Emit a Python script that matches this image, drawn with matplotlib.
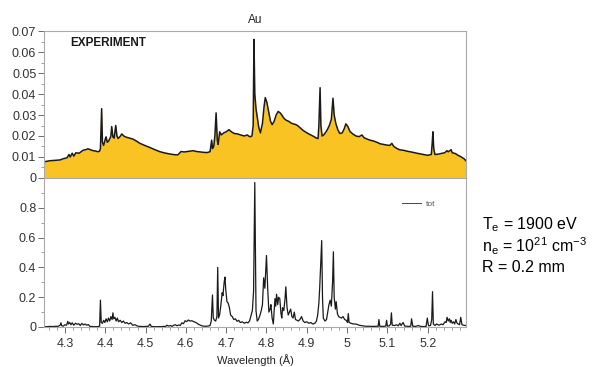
import numpy as np
import matplotlib
matplotlib.use("Agg")
import matplotlib.pyplot as plt
from matplotlib.ticker import MultipleLocator

plt.rcParams['font.family'] = ['Liberation Sans', 'DejaVu Sans']

# experiment spectrum (top panel)
top_wl = [4.248, 4.262, 4.276, 4.288, 4.296, 4.305, 4.310, 4.313, 4.318, 4.322,
          4.327, 4.335, 4.345, 4.352, 4.357, 4.364, 4.370, 4.377, 4.382, 4.386,
          4.388, 4.391, 4.393, 4.396, 4.400, 4.402, 4.405, 4.408, 4.412, 4.414,
          4.416, 4.419, 4.422, 4.426, 4.429, 4.432, 4.437, 4.441, 4.446, 4.451,
          4.460, 4.469, 4.478, 4.486, 4.498, 4.511, 4.523, 4.536, 4.548, 4.561,
          4.572, 4.580, 4.585, 4.588, 4.596, 4.604, 4.611, 4.618, 4.627, 4.635,
          4.645, 4.652, 4.660, 4.664, 4.666, 4.669, 4.672, 4.675, 4.678, 4.680,
          4.684, 4.688, 4.694, 4.700, 4.707, 4.713, 4.720, 4.728, 4.736, 4.745,
          4.752, 4.759, 4.764, 4.767, 4.769, 4.771, 4.774, 4.777, 4.781, 4.785,
          4.790, 4.794, 4.797, 4.801, 4.805, 4.810, 4.814, 4.819, 4.824, 4.829,
          4.834, 4.838, 4.843, 4.849, 4.855, 4.860, 4.866, 4.872, 4.877, 4.884,
          4.890, 4.896, 4.903, 4.910, 4.917, 4.924, 4.928, 4.930, 4.933, 4.935,
          4.938, 4.942, 4.946, 4.951, 4.956, 4.961, 4.965, 4.968, 4.972, 4.977,
          4.982, 4.988, 4.993, 4.997, 5.002, 5.007, 5.014, 5.022, 5.030, 5.037,
          5.042, 5.050, 5.057, 5.066, 5.074, 5.082, 5.090, 5.098, 5.106, 5.111,
          5.116, 5.124, 5.131, 5.140, 5.148, 5.156, 5.164, 5.173, 5.181, 5.188,
          5.193, 5.200, 5.205, 5.209, 5.211, 5.213, 5.215, 5.218, 5.224, 5.230,
          5.236, 5.242, 5.248, 5.251, 5.255, 5.258, 5.261, 5.266, 5.270, 5.275,
          5.280, 5.285, 5.290, 5.295]
top_val = [0.0077, 0.0082, 0.0084, 0.0086, 0.0092, 0.0096, 0.0112, 0.0100, 0.0118, 0.0104,
           0.0120, 0.0118, 0.0132, 0.0135, 0.0139, 0.0134, 0.0130, 0.0128, 0.0125, 0.0128,
           0.0140, 0.0330, 0.0170, 0.0155, 0.0185, 0.0196, 0.0170, 0.0175, 0.0190, 0.0200,
           0.0245, 0.0195, 0.0190, 0.0250, 0.0200, 0.0188, 0.0198, 0.0210, 0.0200, 0.0195,
           0.0190, 0.0185, 0.0175, 0.0165, 0.0155, 0.0145, 0.0135, 0.0125, 0.0119, 0.0114,
           0.0111, 0.0110, 0.0120, 0.0126, 0.0124, 0.0126, 0.0128, 0.0130, 0.0126, 0.0124,
           0.0122, 0.0121, 0.0125, 0.0180, 0.0140, 0.0150, 0.0200, 0.0310, 0.0180, 0.0160,
           0.0220, 0.0205, 0.0215, 0.0220, 0.0230, 0.0220, 0.0212, 0.0210, 0.0205, 0.0200,
           0.0205, 0.0196, 0.0200, 0.0250, 0.0660, 0.0400, 0.0330, 0.0290, 0.0240, 0.0215,
           0.0260, 0.0340, 0.0383, 0.0360, 0.0320, 0.0270, 0.0254, 0.0270, 0.0300, 0.0317,
           0.0310, 0.0300, 0.0285, 0.0275, 0.0270, 0.0263, 0.0258, 0.0255, 0.0250, 0.0238,
           0.0228, 0.0220, 0.0212, 0.0205, 0.0198, 0.0190, 0.0188, 0.0250, 0.0430, 0.0250,
           0.0200, 0.0205, 0.0215, 0.0230, 0.0250, 0.0280, 0.0380, 0.0300, 0.0260, 0.0230,
           0.0212, 0.0215, 0.0235, 0.0258, 0.0245, 0.0222, 0.0210, 0.0200, 0.0197, 0.0205,
           0.0192, 0.0185, 0.0180, 0.0176, 0.0170, 0.0163, 0.0160, 0.0157, 0.0155, 0.0165,
           0.0150, 0.0140, 0.0134, 0.0132, 0.0128, 0.0125, 0.0122, 0.0118, 0.0115, 0.0112,
           0.0110, 0.0108, 0.0110, 0.0112, 0.0160, 0.0220, 0.0140, 0.0112, 0.0113, 0.0115,
           0.0118, 0.0120, 0.0130, 0.0125, 0.0130, 0.0135, 0.0120, 0.0118, 0.0115, 0.0108,
           0.0104, 0.0098, 0.0092, 0.0082]

# calculated spectrum "tot" (bottom panel)
bot_wl = [4.248, 4.255, 4.262, 4.270, 4.277, 4.283, 4.288, 4.290, 4.292, 4.296,
          4.300, 4.304, 4.307, 4.309, 4.312, 4.315, 4.318, 4.322, 4.326, 4.330,
          4.334, 4.338, 4.342, 4.346, 4.350, 4.354, 4.358, 4.362, 4.368, 4.375,
          4.382, 4.386, 4.388, 4.390, 4.393, 4.396, 4.399, 4.402, 4.405, 4.408,
          4.411, 4.414, 4.417, 4.419, 4.421, 4.424, 4.427, 4.430, 4.433, 4.437,
          4.441, 4.445, 4.449, 4.453, 4.458, 4.463, 4.468, 4.474, 4.480, 4.486,
          4.495, 4.503, 4.507, 4.511, 4.514, 4.522, 4.530, 4.540, 4.550, 4.553,
          4.557, 4.562, 4.566, 4.570, 4.574, 4.578, 4.582, 4.586, 4.590, 4.594,
          4.598, 4.602, 4.606, 4.610, 4.615, 4.620, 4.625, 4.630, 4.636, 4.642,
          4.648, 4.655, 4.660, 4.663, 4.666, 4.668, 4.671, 4.674, 4.677, 4.679,
          4.681, 4.684, 4.687, 4.690, 4.692, 4.695, 4.697, 4.699, 4.702, 4.705,
          4.708, 4.711, 4.715, 4.719, 4.723, 4.727, 4.731, 4.735, 4.740, 4.745,
          4.750, 4.754, 4.758, 4.762, 4.765, 4.768, 4.771, 4.774, 4.777, 4.780,
          4.784, 4.787, 4.790, 4.793, 4.796, 4.800, 4.803, 4.806, 4.809, 4.811,
          4.814, 4.817, 4.819, 4.821, 4.823, 4.825, 4.828, 4.830, 4.833, 4.836,
          4.838, 4.840, 4.843, 4.846, 4.848, 4.851, 4.854, 4.857, 4.860, 4.863,
          4.866, 4.869, 4.872, 4.876, 4.879, 4.883, 4.887, 4.891, 4.895, 4.900,
          4.905, 4.910, 4.915, 4.920, 4.924, 4.927, 4.930, 4.932, 4.935, 4.937,
          4.939, 4.941, 4.945, 4.949, 4.952, 4.955, 4.958, 4.961, 4.964, 4.966,
          4.968, 4.971, 4.973, 4.976, 4.979, 4.982, 4.986, 4.990, 4.994, 4.998,
          5.001, 5.003, 5.005, 5.010, 5.016, 5.022, 5.030, 5.038, 5.046, 5.055,
          5.065, 5.074, 5.077, 5.079, 5.081, 5.090, 5.096, 5.098, 5.100, 5.105,
          5.108, 5.110, 5.112, 5.118, 5.123, 5.127, 5.131, 5.134, 5.139, 5.143,
          5.148, 5.155, 5.158, 5.160, 5.163, 5.170, 5.177, 5.182, 5.190, 5.196,
          5.199, 5.202, 5.207, 5.210, 5.212, 5.214, 5.218, 5.222, 5.228, 5.234,
          5.238, 5.243, 5.246, 5.248, 5.251, 5.254, 5.256, 5.258, 5.261, 5.264,
          5.267, 5.270, 5.273, 5.276, 5.279, 5.282, 5.285, 5.289, 5.294]
bot_val = [0.003, 0.002, 0.004, 0.003, 0.005, 0.004, 0.012, 0.028, 0.008, 0.006,
           0.015, 0.012, 0.038, 0.020, 0.030, 0.015, 0.028, 0.012, 0.025, 0.018,
           0.022, 0.010, 0.024, 0.014, 0.020, 0.012, 0.016, 0.004, 0.003, 0.002,
           0.003, 0.006, 0.180, 0.030, 0.025, 0.045, 0.030, 0.055, 0.035, 0.060,
           0.040, 0.070, 0.050, 0.095, 0.055, 0.065, 0.040, 0.060, 0.035, 0.045,
           0.030, 0.040, 0.025, 0.030, 0.020, 0.028, 0.012, 0.015, 0.006, 0.004,
           0.003, 0.004, 0.005, 0.020, 0.004, 0.002, 0.002, 0.003, 0.004, 0.012,
           0.006, 0.010, 0.004, 0.012, 0.015, 0.008, 0.014, 0.010, 0.028, 0.022,
           0.042, 0.036, 0.047, 0.040, 0.042, 0.035, 0.030, 0.020, 0.012, 0.006,
           0.005, 0.006, 0.010, 0.040, 0.215, 0.060, 0.045, 0.040, 0.070, 0.400,
           0.060, 0.085, 0.150, 0.230, 0.210, 0.300, 0.335, 0.250, 0.170, 0.160,
           0.130, 0.080, 0.070, 0.050, 0.055, 0.038, 0.045, 0.030, 0.035, 0.025,
           0.032, 0.028, 0.040, 0.080, 0.110, 0.240, 0.970, 0.110, 0.040, 0.050,
           0.080, 0.110, 0.150, 0.330, 0.260, 0.480, 0.260, 0.100, 0.120, 0.150,
           0.060, 0.020, 0.100, 0.190, 0.140, 0.220, 0.150, 0.200, 0.190, 0.090,
           0.060, 0.130, 0.110, 0.190, 0.270, 0.130, 0.080, 0.100, 0.120, 0.070,
           0.060, 0.100, 0.050, 0.045, 0.040, 0.050, 0.070, 0.040, 0.030, 0.035,
           0.025, 0.030, 0.020, 0.025, 0.040, 0.080, 0.160, 0.260, 0.450, 0.580,
           0.200, 0.060, 0.040, 0.050, 0.100, 0.150, 0.180, 0.140, 0.300, 0.505,
           0.200, 0.120, 0.170, 0.090, 0.070, 0.065, 0.060, 0.070, 0.050, 0.045,
           0.030, 0.090, 0.030, 0.025, 0.020, 0.020, 0.012, 0.008, 0.005, 0.005,
           0.004, 0.005, 0.004, 0.050, 0.005, 0.004, 0.006, 0.045, 0.006, 0.008,
           0.020, 0.095, 0.012, 0.010, 0.015, 0.008, 0.025, 0.010, 0.030, 0.006,
           0.005, 0.004, 0.006, 0.055, 0.005, 0.004, 0.010, 0.004, 0.003, 0.004,
           0.060, 0.008, 0.010, 0.050, 0.237, 0.020, 0.010, 0.020, 0.012, 0.020,
           0.015, 0.035, 0.030, 0.065, 0.040, 0.055, 0.030, 0.045, 0.025, 0.035,
           0.020, 0.050, 0.025, 0.020, 0.015, 0.065, 0.015, 0.012, 0.010]

xticks = [4.3, 4.4, 4.5, 4.6, 4.7, 4.8, 4.9, 5.0, 5.1, 5.2]
xtick_labels = ['4.3', '4.4', '4.5', '4.6', '4.7', '4.8', '4.9', '5', '5.1', '5.2']

fig = plt.figure(figsize=(6.12, 3.67), dpi=100)
ax1 = fig.add_axes([0.0719, 0.515, 0.6895, 0.4005])
ax2 = fig.add_axes([0.0719, 0.109, 0.6895, 0.406])

ax1.fill_between(top_wl, top_val, 0, color='#F9C423', lw=0)
ax1.plot(top_wl, top_val, color='#1a1a1a', lw=1.1)
ax1.set_ylim(0, 0.07)
ax1.set_yticks([0, 0.01, 0.02, 0.03, 0.04, 0.05, 0.06, 0.07])
ax1.set_yticklabels(['0', '0.01', '0.02', '0.03', '0.04', '0.05', '0.06', '0.07'])
ax1.yaxis.set_minor_locator(MultipleLocator(0.005))
ax1.set_title('Au', fontsize=8.5, pad=6, color='#222222')
ax1.text(0.062, 0.918, 'EXPERIMENT', transform=ax1.transAxes, fontsize=8.5,
         fontweight='bold', va='center', color='#1a1a1a')

ax2.plot(bot_wl, bot_val, color='#1a1a1a', lw=0.9, label='tot')
ax2.set_ylim(0, 1.0)
ax2.set_yticks([0, 0.2, 0.4, 0.6, 0.8])
ax2.set_yticklabels(['0', '0.2', '0.4', '0.6', '0.8'])
ax2.yaxis.set_minor_locator(MultipleLocator(0.1))
ax2.set_xlabel('Wavelength (Å)', fontsize=8, labelpad=3, color='#222222')
leg = ax2.legend(loc='upper right', bbox_to_anchor=(0.945, 0.9), frameon=False,
                 fontsize=6, handlelength=2.2, handletextpad=0.6, labelcolor='#555555')
for h in leg.get_lines():
    h.set_color('#444444')
    h.set_linewidth(0.7)

for ax in (ax1, ax2):
    ax.set_xlim(4.248, 5.295)
    ax.set_xticks(xticks)
    ax.xaxis.set_minor_locator(MultipleLocator(0.02))
    ax.tick_params(which='major', direction='out', length=4, width=0.6,
                   color='#555555', labelsize=9, labelcolor='#333333', pad=1.5)
    ax.tick_params(which='minor', direction='out', length=2, width=0.5, color='#777777')
    for s in ax.spines.values():
        s.set_color('#aaaaaa')
        s.set_linewidth(0.8)

ax1.tick_params(axis='x', labelbottom=False)
ax2.set_xticklabels(xtick_labels)
ax2.tick_params(axis='x', which='major', pad=4)

fig.text(0.7876, 0.387, r'T$_\mathregular{e}$ = 1900 eV', fontsize=11.5, va='center')
fig.text(0.7876, 0.330, r'n$_\mathregular{e}$ = 10$^\mathregular{21}$ cm$^\mathregular{-3}$', fontsize=11.5, va='center')
fig.text(0.7876, 0.270, 'R = 0.2 mm', fontsize=11.5, va='center')

fig.savefig('out.png', dpi=100)
